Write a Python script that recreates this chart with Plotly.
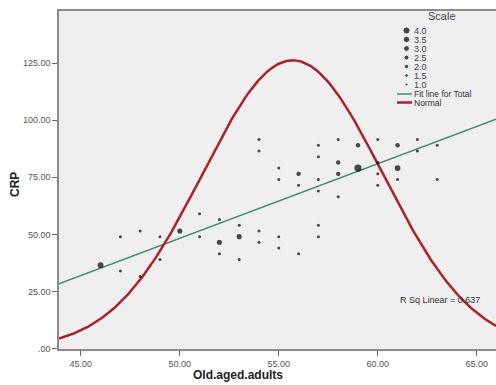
import numpy as np
import plotly.graph_objects as go

# ---- data ----
x_vals = [46, 47, 47, 48, 48, 49, 49, 50, 51, 51, 52, 52, 52, 53, 53, 53,
          54, 54, 54, 54, 55, 55, 55, 55, 56, 56, 56,
          57, 57, 57, 57, 57, 57, 58, 58, 58, 58, 59, 59,
          60, 60, 60, 60, 61, 61, 61, 62, 62, 63, 63]
y_vals = [36.5, 49, 34, 51.5, 31.5, 49, 39, 51.5, 59, 49, 56.5, 46.5, 41.5, 54, 49, 39,
          91.5, 86.5, 51.5, 46.5, 79, 74, 49, 44, 76.5, 71.5, 41.5,
          89, 84, 74, 69, 54, 49, 91.5, 81.5, 76.5, 66.5, 89, 79,
          91.5, 81.5, 76.5, 71.5, 89, 79, 74, 91.5, 86.5, 89, 74]
counts = [3, 1, 1, 1, 1, 1, 1, 2.5, 1, 1, 1, 2.5, 1, 1, 2.5, 1,
          1, 1, 1, 1, 1, 1, 1, 1, 2, 1, 1,
          1, 1, 1, 1, 1, 1, 1, 2, 2, 1, 2, 4,
          1, 1, 1, 1, 2, 3, 1, 1, 1, 1, 1]

fit_intercept = -114.8
fit_slope = 3.262
r_sq = 0.637

normal_mean = 55.7
normal_sd = 4.55
normal_peak = 126.2

x_range = [43.9, 65.97]
y_range = [-0.2, 147.8]
x_ticks = [45, 50, 55, 60, 65]
x_tick_labels = ["45.00", "50.00", "55.00", "60.00", "65.00"]
y_ticks = [0, 25, 50, 75, 100, 125]
y_tick_labels = [".00", "25.00", "50.00", "75.00", "100.00", "125.00"]

legend_scale = [4.0, 3.5, 3.0, 2.5, 2.0, 1.5, 1.0]
legend_scale_labels = ["4.0", "3.5", "3.0", "2.5", "2.0", "1.5", "1.0"]

# ---- styling ----
FONT = "Liberation Sans, Arial, sans-serif"
GREEN = "#3f8f6b"
RED = "#b0202c"
PLOT_L, PLOT_R, PLOT_T, PLOT_B = 59, 496, 11, 349   # pixel box of plot area


def size_of(c):
    return 3 + (c - 1) * 4.2 / 3


fig = go.Figure()

# fit line
fx = np.array(x_range)
fig.add_trace(go.Scatter(x=fx, y=fit_intercept + fit_slope * fx, mode="lines",
                         line=dict(color=GREEN, width=1.5), hoverinfo="skip"))

# normal curve
nx = np.linspace(x_range[0], x_range[1], 300)
ny = normal_peak * np.exp(-((nx - normal_mean) ** 2) / (2 * normal_sd ** 2))
fig.add_trace(go.Scatter(x=nx, y=ny, mode="lines",
                         line=dict(color=RED, width=2.5), hoverinfo="skip"))

# data points
fig.add_trace(go.Scatter(x=x_vals, y=y_vals, mode="markers",
                         marker=dict(color="black", size=[size_of(c) for c in counts],
                                     line=dict(width=0)),
                         cliponaxis=True))

# ---- manual legend on a pixel overlay axis ----
leg_marker_x = 406.5
leg_text_x = 412
row_y = [30.5, 39.5, 48.5, 57.5, 66.5, 75.5, 84.5]
fig.add_trace(go.Scatter(x=[leg_marker_x] * len(legend_scale), y=row_y, mode="markers",
                         marker=dict(color="black", size=[size_of(c) for c in legend_scale]),
                         xaxis="x2", yaxis="y2", hoverinfo="skip"))
fit_row, norm_row = 94, 102.5
fig.add_trace(go.Scatter(x=[397, 412], y=[fit_row, fit_row], mode="lines",
                         line=dict(color=GREEN, width=1.5), xaxis="x2", yaxis="y2",
                         hoverinfo="skip"))
fig.add_trace(go.Scatter(x=[397, 412], y=[norm_row, norm_row], mode="lines",
                         line=dict(color=RED, width=2.5), xaxis="x2", yaxis="y2",
                         hoverinfo="skip"))

annotations = []
annotations.append(dict(x=442, y=16, xref="x2", yref="y2", text="Scale", showarrow=False,
                        xanchor="center", yanchor="middle",
                        font=dict(family=FONT, size=11, color="#444")))
for lab, yy in zip(legend_scale_labels, row_y):
    annotations.append(dict(x=leg_text_x, y=yy, xref="x2", yref="y2", text=lab,
                            showarrow=False, xanchor="left", yanchor="middle",
                            font=dict(family=FONT, size=9, color="#444")))
annotations.append(dict(x=leg_text_x, y=fit_row, xref="x2", yref="y2",
                        text="Fit line for Total", showarrow=False, xanchor="left",
                        yanchor="middle", font=dict(family=FONT, size=8.5, color="#333")))
annotations.append(dict(x=leg_text_x, y=norm_row, xref="x2", yref="y2",
                        text="Normal", showarrow=False, xanchor="left", yanchor="middle",
                        font=dict(family=FONT, size=8.5, color="#333")))
annotations.append(dict(x=440, y=300, xref="x2", yref="y2",
                        text="R Sq Linear = %.3f" % r_sq, showarrow=False,
                        xanchor="center", yanchor="middle",
                        font=dict(family=FONT, size=9, color="#333")))

W = PLOT_R - PLOT_L
H = PLOT_B - PLOT_T
annotations.append(dict(x=(15 - PLOT_L) / W, y=(PLOT_B - 185) / H, xref="paper", yref="paper",
                        text="<b>CRP</b>", textangle=-90, showarrow=False,
                        xanchor="center", yanchor="middle",
                        font=dict(family=FONT, size=12, color="#222")))
annotations.append(dict(x=(238 - PLOT_L) / W, y=(PLOT_B - 375) / H, xref="paper", yref="paper",
                        text="<b>Old.aged.adults</b>", showarrow=False,
                        xanchor="center", yanchor="middle",
                        font=dict(family=FONT, size=12, color="#222")))

fig.update_layout(
    width=496, height=385,
    margin=dict(l=PLOT_L, r=496 - PLOT_R, t=PLOT_T, b=385 - PLOT_B, pad=0),
    paper_bgcolor="white", plot_bgcolor="#efefef",
    showlegend=False,
    font=dict(family=FONT, size=9, color="#444"),
    xaxis=dict(range=x_range, tickvals=x_ticks, ticktext=x_tick_labels,
               showgrid=False, zeroline=False, showline=True, linecolor="#8a8a8a",
               linewidth=1.5, mirror=True, ticks="outside", ticklen=5,
               tickcolor="#666", tickfont=dict(family=FONT, size=9, color="#555")),
    yaxis=dict(range=y_range, tickvals=y_ticks, ticktext=y_tick_labels,
               showgrid=False, zeroline=False, showline=True, linecolor="#8a8a8a",
               linewidth=1.5, ticks="outside", ticklen=5,
               tickcolor="#666", tickfont=dict(family=FONT, size=9, color="#555")),
    xaxis2=dict(range=[PLOT_L, PLOT_R], overlaying="x", visible=False, domain=[0, 1]),
    yaxis2=dict(range=[PLOT_B, PLOT_T], overlaying="y", visible=False, domain=[0, 1]),
    annotations=annotations,
)

fig.write_html("out.html")
